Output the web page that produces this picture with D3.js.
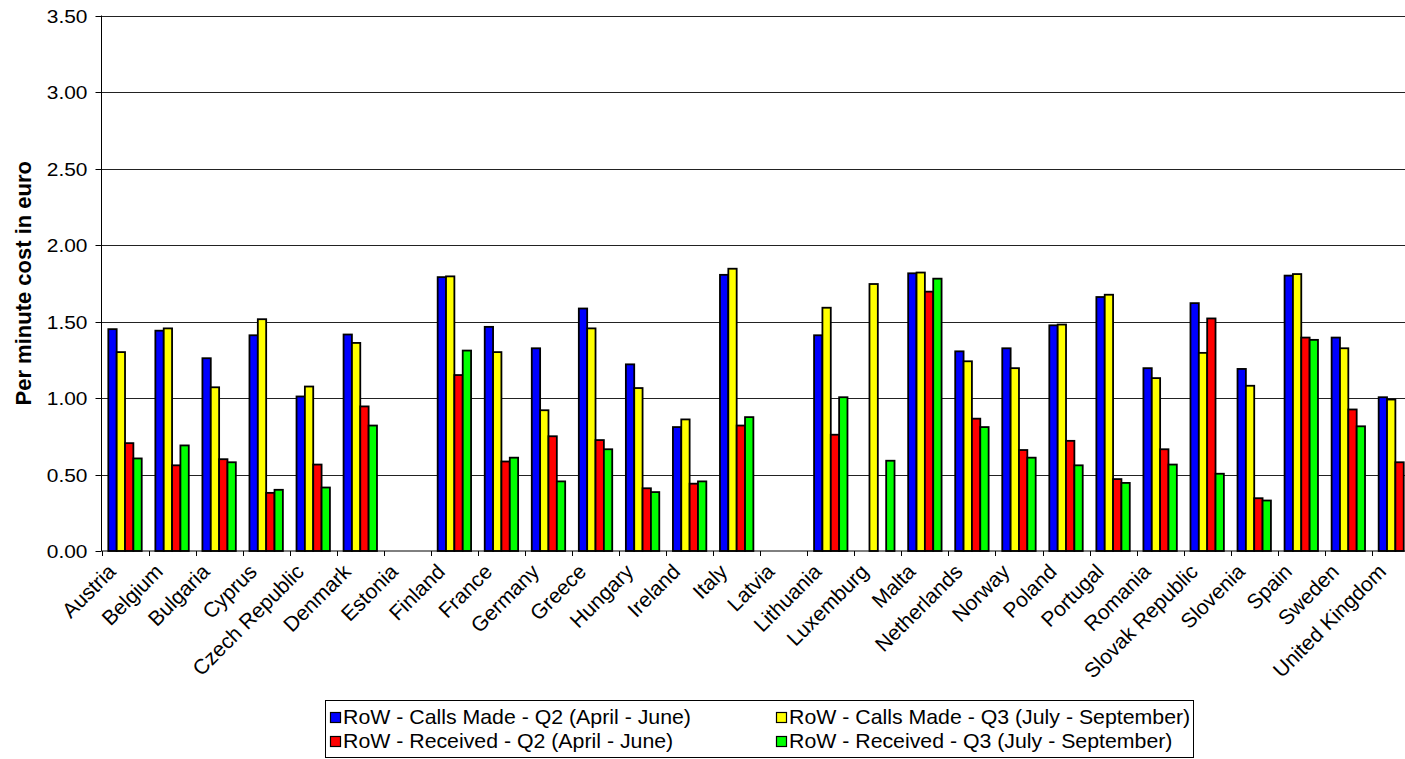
<html>
<head>
  <style>
  body {
    margin: 0;
    background: #fff;
  }
  svg text {
    font-family: "Liberation Sans", Arial, sans-serif;
    fill: #000;
  }
  </style>
</head>
<body>
  <div id="elm"></div>

  <script src="https://cdnjs.cloudflare.com/ajax/libs/d3/7.8.5/d3.min.js"></script>
  <script>

  'use strict';

  // --- data ---
  var countries = ['Austria', 'Belgium', 'Bulgaria', 'Cyprus', 'Czech Republic', 'Denmark', 'Estonia',
    'Finland', 'France', 'Germany', 'Greece', 'Hungary', 'Ireland', 'Italy', 'Latvia', 'Lithuania',
    'Luxemburg', 'Malta', 'Netherlands', 'Norway', 'Poland', 'Portugal', 'Romania', 'Slovak Republic',
    'Slovenia', 'Spain', 'Sweden', 'United Kingdom'];

  var callsMadeQ2 = [1.45, 1.44, 1.26, 1.41, 1.01, 1.415, null, 1.79, 1.465, 1.325, 1.585, 1.22, 0.81, 1.805,
    null, 1.41, null, 1.815, 1.305, 1.325, 1.475, 1.66, 1.195, 1.62, 1.19, 1.80, 1.395, 1.005];
  var callsMadeQ3 = [1.30, 1.455, 1.07, 1.515, 1.075, 1.36, null, 1.795, 1.30, 0.92, 1.455, 1.065, 0.86, 1.845,
    null, 1.59, 1.745, 1.82, 1.24, 1.195, 1.48, 1.675, 1.13, 1.295, 1.08, 1.81, 1.325, 0.99];
  var receivedQ2 = [0.705, 0.56, 0.60, 0.38, 0.565, 0.945, null, 1.15, 0.585, 0.75, 0.725, 0.41, 0.44, 0.82,
    null, 0.76, null, 1.695, 0.865, 0.66, 0.72, 0.47, 0.665, 1.52, 0.345, 1.395, 0.925, 0.58];
  var receivedQ3 = [0.605, 0.69, 0.58, 0.40, 0.415, 0.82, null, 1.31, 0.61, 0.455, 0.665, 0.385, 0.455, 0.875,
    null, 1.005, 0.59, 1.78, 0.81, 0.61, 0.56, 0.445, 0.565, 0.505, 0.33, 1.38, 0.815, null];

  var seriesNames = ['RoW - Calls Made - Q2 (April - June)', 'RoW - Calls Made - Q3 (July - September)',
    'RoW - Received - Q2 (April - June)', 'RoW - Received - Q3 (July - September)'];
  var seriesColors = ['#0000ff', '#ffff00', '#ff0000', '#00ff00'];
  var yTicks = [0, 0.5, 1, 1.5, 2, 2.5, 3, 3.5];

  var series = [callsMadeQ2, callsMadeQ3, receivedQ2, receivedQ3];

  // --- layout ---
  var W = 1405, H = 759;
  var plotLeft = 101.5, plotTop = 15.5, plotBottom = 551;
  var step = 47.05;
  var plotRight = plotLeft + step * countries.length;   // runs off the right edge, like the original
  var sx = 1.1;  // the original text is a little wide

  var svg = d3.select('#elm').append('svg')
    .attr('width', W).attr('height', H);

  var y = d3.scaleLinear().domain([0, 3.5]).range([plotBottom, plotTop]);
  var x0 = d3.scaleBand().domain(countries).range([plotLeft, plotRight]).padding(0);
  var x1 = d3.scaleBand().domain(d3.range(4))
    .range([x0.bandwidth() * 0.145, x0.bandwidth() * 0.855]).padding(0);

  // gridlines
  svg.append('g').selectAll('line').data(yTicks.filter(function(d) { return d > 0; }))
    .enter().append('line')
      .attr('x1', plotLeft).attr('x2', plotRight)
      .attr('y1', function(d) { return Math.round(y(d)) + 0.5; })
      .attr('y2', function(d) { return Math.round(y(d)) + 0.5; })
      .attr('stroke', '#222').attr('stroke-width', 1);

  // y axis
  var yAxis = svg.append('g').attr('transform', 'translate(' + plotLeft + ',0)');
  yAxis.append('line').attr('y1', plotTop).attr('y2', plotBottom).attr('stroke', '#000');
  yAxis.selectAll('.tk').data(yTicks).enter().append('line')
    .attr('x1', -6).attr('x2', 0)
    .attr('y1', function(d) { return Math.round(y(d)) + 0.5; })
    .attr('y2', function(d) { return Math.round(y(d)) + 0.5; })
    .attr('stroke', '#000');
  yAxis.selectAll('text').data(yTicks).enter().append('text')
    .attr('transform', function(d) { return 'translate(-14,' + (y(d) + 7) + ') scale(' + sx + ',1)'; })
    .attr('text-anchor', 'end')
    .style('font-size', '19px')
    .text(function(d) { return d3.format('.2f')(d); });

  svg.append('text')
    .attr('transform', 'translate(31,' + ((plotTop + plotBottom) / 2) + ') rotate(-90)')
    .attr('text-anchor', 'middle')
    .style('font-size', '22px').style('font-weight', 'bold')
    .text('Per minute cost in euro');

  // bars
  var groups = svg.append('g').selectAll('g').data(countries).enter().append('g')
    .attr('transform', function(d) { return 'translate(' + x0(d) + ',0)'; });

  groups.selectAll('rect')
    .data(function(d, i) {
      return series.map(function(s, k) { return { k: k, v: s[i] }; })
        .filter(function(e) { return e.v != null; });
    })
    .enter().append('rect')
      .attr('x', function(d) { return x1(d.k); })
      .attr('width', x1.bandwidth())
      .attr('y', function(d) { return y(d.v); })
      .attr('height', function(d) { return plotBottom - y(d.v); })
      .attr('fill', function(d) { return seriesColors[d.k]; })
      .attr('stroke', '#000').attr('stroke-width', 1.8);

  // x axis
  var xAxis = svg.append('g');
  xAxis.append('line').attr('x1', plotLeft).attr('x2', plotRight)
    .attr('y1', plotBottom).attr('y2', plotBottom).attr('stroke', '#000');
  xAxis.selectAll('.tk').data(d3.range(countries.length + 1)).enter().append('line')
    .attr('x1', function(i) { return Math.round(plotLeft + i * step) + 0.5; })
    .attr('x2', function(i) { return Math.round(plotLeft + i * step) + 0.5; })
    .attr('y1', plotBottom).attr('y2', plotBottom + 5).attr('stroke', '#000');
  xAxis.selectAll('text').data(countries).enter().append('text')
    .attr('transform', function(d) {
      return 'translate(' + (x0(d) + x0.bandwidth() / 2 - 8) + ',' + (plotBottom + 22) + ') rotate(-45)';
    })
    .attr('text-anchor', 'end')
    .style('font-size', '21px')
    .text(function(d) { return d; });

  // legend
  var lsx = 1.065;
  var legend = svg.append('g').attr('transform', 'translate(325,700)');
  legend.append('rect').attr('x', 0.5).attr('y', 0.5).attr('width', 868).attr('height', 57)
    .attr('fill', '#fff').attr('stroke', '#000');
  var items = legend.selectAll('.item').data(seriesNames).enter().append('g')
    .attr('transform', function(d, i) { return 'translate(' + (i % 2 ? 451 : 5) + ',' + (i < 2 ? 12 : 36) + ')'; });
  items.append('rect').attr('x', 0.5).attr('y', 0.5).attr('width', 10).attr('height', 10)
    .attr('fill', function(d, i) { return seriesColors[i]; })
    .attr('stroke', '#000').attr('stroke-width', 1.2);
  items.append('text')
    .attr('transform', 'translate(13,12) scale(' + lsx + ',1)')
    .style('font-size', '20px')
    .text(function(d) { return d; });

  </script>
</body>
</html>
